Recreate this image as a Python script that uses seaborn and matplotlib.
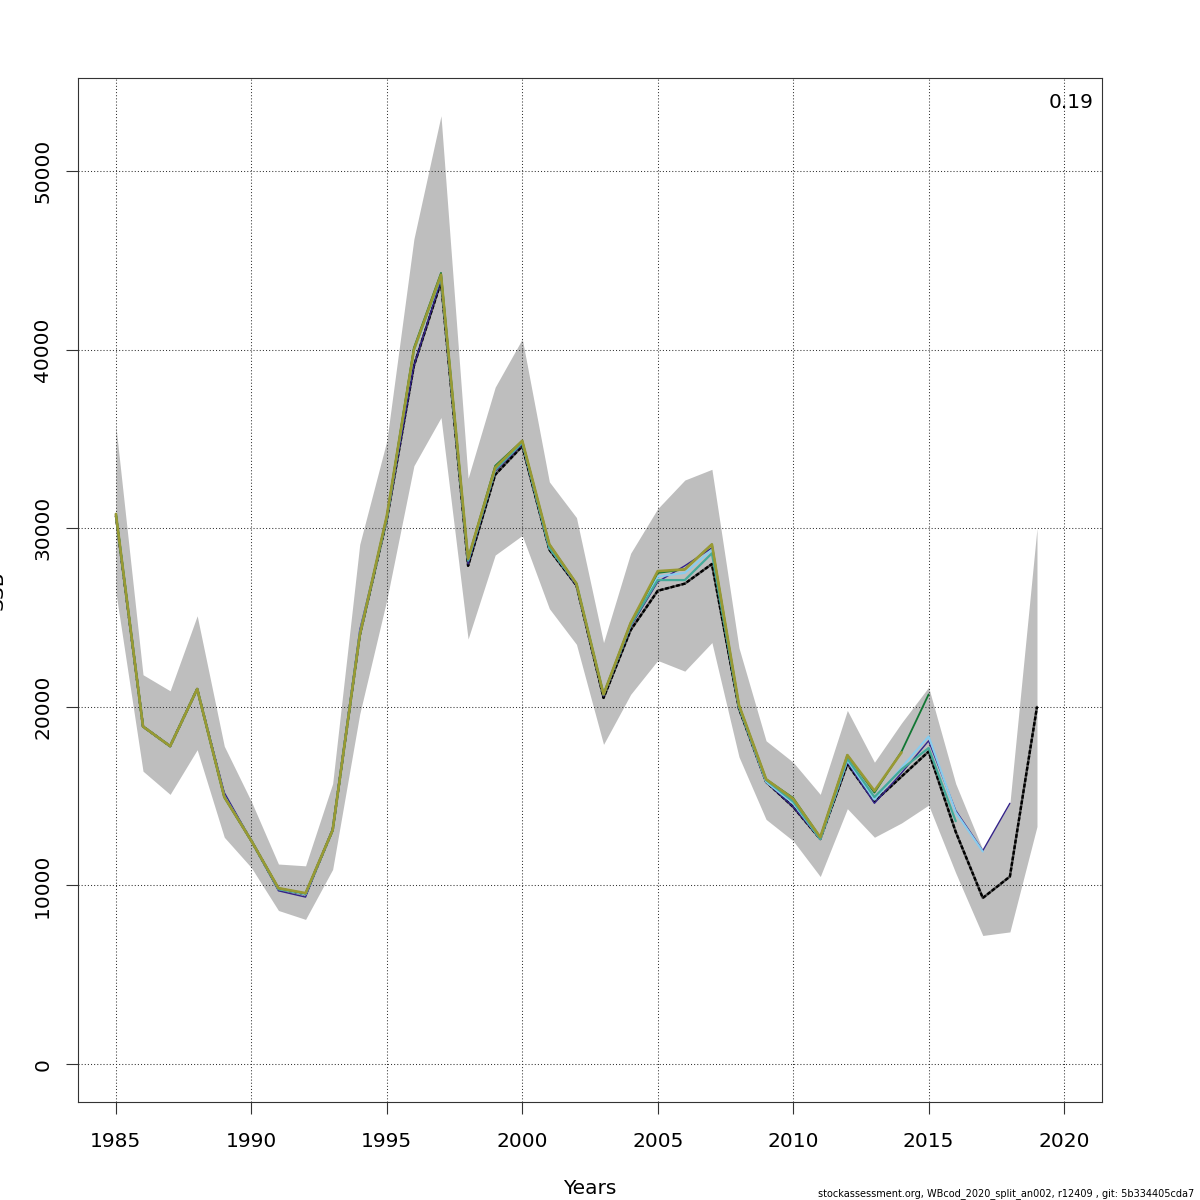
import numpy as np
import pandas as pd
import matplotlib
matplotlib.use("Agg")
import matplotlib.pyplot as plt
import seaborn as sns

years = list(range(1985, 2020))

# final run (black dashed) and its confidence band
ssb_base = [30700, 18900, 17800, 21000, 15000, 12500, 9800, 9500, 13100, 24000,
            30500, 39100, 43800, 27900, 33000, 34600, 28800, 26800, 20500, 24300,
            26500, 26900, 28000, 19900, 15800, 14400, 12600, 16800, 14700, 16100,
            17500, 13000, 9300, 10500, 20000]
ssb_low = [26400, 16400, 15100, 17600, 12700, 11000, 8600, 8100, 10900, 19600,
           26000, 33500, 36200, 23800, 28500, 29600, 25500, 23500, 17900, 20700,
           22600, 22000, 23600, 17200, 13700, 12500, 10500, 14300, 12700, 13500,
           14500, 10700, 7200, 7400, 13300]
ssb_high = [35700, 21800, 20900, 25100, 17800, 14700, 11200, 11100, 15700, 29100,
            34900, 46200, 53100, 32800, 37900, 40600, 32600, 30600, 23600, 28600,
            31100, 32700, 33300, 23300, 18100, 16900, 15100, 19800, 16900, 19100,
            21100, 15700, 12000, 14600, 30000]

# retrospective peels
peel1 = [30800, 18900, 17800, 21000, 15200, 12500, 9700, 9350, 13200, 24300,
         30500, 39100, 43900, 28000, 33200, 34700, 28900, 26800, 20600, 24500,
         27000, 27900, 28900, 20000, 15800, 14400, 12600, 16900, 14600, 16300,
         18100, 14200, 11950, 14600]
peel2 = [30800, 18900, 17800, 21000, 15000, 12500, 9800, 9500, 13100, 24100,
         30600, 39900, 44100, 28200, 33300, 34800, 28900, 26900, 20700, 24600,
         27300, 27500, 28800, 20000, 15800, 14600, 12600, 17000, 14800, 16600,
         18350, 14100, 11900]
peel3 = [30800, 18900, 17800, 21000, 14950, 12500, 9800, 9550, 13100, 24000,
         30600, 40000, 44100, 28200, 33300, 34800, 28900, 26900, 20700, 24600,
         27100, 27100, 28600, 20000, 15900, 14700, 12600, 17100, 14950, 16500,
         17700, 13600]
peel4 = [30800, 18900, 17800, 21000, 14950, 12500, 9850, 9550, 13100, 24000,
         30700, 40100, 44300, 28300, 33500, 34900, 29100, 26900, 20700, 24700,
         27500, 27700, 29100, 20100, 15950, 14900, 12700, 17300, 15200, 17500,
         20700]
peel5 = [30800, 18900, 17800, 21000, 14950, 12500, 9850, 9570, 13100, 24000,
         30700, 40000, 44200, 28300, 33400, 34900, 29100, 26900, 20700, 24700,
         27600, 27700, 29100, 20100, 15950, 14850, 12700, 17300, 15300, 17450]

peels = [peel1, peel2, peel3, peel4, peel5]
peel_colors = ["#332288", "#88CCEE", "#44AA99", "#117733", "#999933"]
peel_widths = [1.0, 1.5, 1.6, 1.3, 1.9]
mohn_rho = "0.19"
footnote = "stockassessment.org, WBcod_2020_split_an002, r12409 , git: 5b334405cda7"

sns.set_theme(style="white")
plt.rcParams["font.family"] = ["DejaVu Sans"]

fig = plt.figure(figsize=(12, 12), dpi=100)
ax = fig.add_axes([78/1200, 1 - 1102/1200, 1024/1200, 1024/1200])

ax.fill_between(years, ssb_low, ssb_high, color="#BEBEBE", lw=0, zorder=1)

base_df = pd.DataFrame({"year": years, "ssb": ssb_base})
sns.lineplot(data=base_df, x="year", y="ssb", ax=ax, color="#4d4d4d", lw=1.7, zorder=3)
sns.lineplot(data=base_df, x="year", y="ssb", ax=ax, color="black", lw=1.7,
             linestyle=(0, (1.6, 0.8)), zorder=3)
for p, c, w in zip(peels, peel_colors, peel_widths):
    d = pd.DataFrame({"year": years[:len(p)], "ssb": p})
    sns.lineplot(data=d, x="year", y="ssb", ax=ax, color=c, lw=w, zorder=3)

ax.set_xlim(1983.6, 2021.4)
ax.set_ylim(-2124, 55212)
xt = list(range(1985, 2021, 5))
yt = list(range(0, 50001, 10000))
ax.set_xticks(xt)
ax.set_yticks(yt)
ax.set_yticklabels([str(v) for v in yt], rotation=90, va="center")
ax.tick_params(axis="both", direction="out", length=8.6, width=0.8, color="#333333",
               labelsize=14.5, bottom=True, left=True, labelcolor="black")
ax.tick_params(axis="x", pad=13)
ax.tick_params(axis="y", pad=10)
for s in ax.spines.values():
    s.set_color("#333333")
    s.set_linewidth(0.8)

for v in xt:
    ax.axvline(v, color="#333333", lw=0.75, linestyle=(0, (1, 2)), zorder=2.5)
for v in yt:
    ax.axhline(v, color="#333333", lw=0.75, linestyle=(0, (1, 2)), zorder=2.5)

ax.set_xlabel("Years", fontsize=14.5, labelpad=20, color="black")
ax.set_ylabel("")
fig.text(7/1200, 1 - 590/1200, "SSB", rotation=90, fontsize=14.5,
         ha="right", va="center", color="black")
ax.text((1093 - 78)/1024, (1102 - 103)/1024, mohn_rho, transform=ax.transAxes,
        ha="right", va="center", fontsize=14.5, zorder=2, color="black")
fig.text(1194/1200, 1 - 1194/1200, footnote, ha="right", va="center", fontsize=7,
         color="black")

fig.savefig("out.png", dpi=100)
